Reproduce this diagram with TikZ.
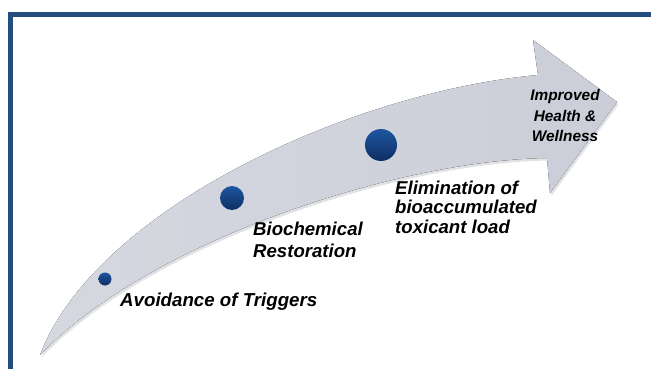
\documentclass[tikz,border=0pt]{standalone}
\usepackage{fontspec}
\setmainfont{Liberation Sans}
\definecolor{frameblue}{RGB}{35,76,127}
\definecolor{arrowgray}{RGB}{203,206,216}
\definecolor{arrowlight}{RGB}{214,216,224}
\definecolor{shadowgray}{RGB}{150,152,160}
\definecolor{dottop}{RGB}{30,86,160}
\definecolor{dotbot}{RGB}{14,46,99}
\tikzset{
  dot/.style={circle, inner sep=0pt, top color=dottop, bottom color=dotbot, draw=none},
  lbl/.style={inner sep=0pt, font=\bfseries\itshape, text=black},
}
\begin{document}
\begin{tikzpicture}[x=1pt,y=-1pt]
\useasboundingbox (0,0) rectangle (651,369);
\fill[white] (0,0) rectangle (651,369);
% frame
\draw[frameblue, line width=5.5pt, line join=miter] (10.5,369) -- (10.5,14.5) -- (651,14.5);
% arrow shadow
\begin{scope}[shift={(1.5,2.5)}]
\fill[shadowgray, opacity=0.28]
  (40,355) .. controls (95,210) and (350,92) .. (538,75)
  -- (533,40) -- (617,102) -- (550,193) -- (547,158)
  .. controls (400,160) and (150,240) .. cycle;
\end{scope}
% arrow
\fill[left color=arrowlight, right color=arrowgray]
  (40,355) .. controls (95,210) and (350,92) .. (538,75)
  -- (533,40) -- (617,102) -- (550,193) -- (547,158)
  .. controls (400,160) and (150,240) .. cycle;
% dots
\node[dot, minimum size=13pt] (d1) at (105,279) {};
\node[dot, minimum size=24pt] (d2) at (232,198) {};
\node[dot, minimum size=32pt] (d3) at (381,145) {};
% labels
\node[lbl, anchor=base west, font=\fontsize{18.7}{22}\selectfont\bfseries\itshape] (t1) at (120,306) {Avoidance of Triggers};
\node[lbl, anchor=north west, align=left, font=\fontsize{18.6}{22}\selectfont\bfseries\itshape] (t2) at (253,221.5) {Biochemical\\Restoration};
\node[lbl, anchor=north west, align=left, font=\fontsize{18.6}{19.5}\selectfont\bfseries\itshape] (t3) at (395,180.4) {Elimination of\\bioaccumulated\\toxicant load};
\node[lbl, anchor=north, align=center, font=\fontsize{15.4}{20.5}\selectfont\bfseries\itshape] (t4) at (565,89.5) {Improved\\Health \&\\Wellness};
\end{tikzpicture}
\end{document}
